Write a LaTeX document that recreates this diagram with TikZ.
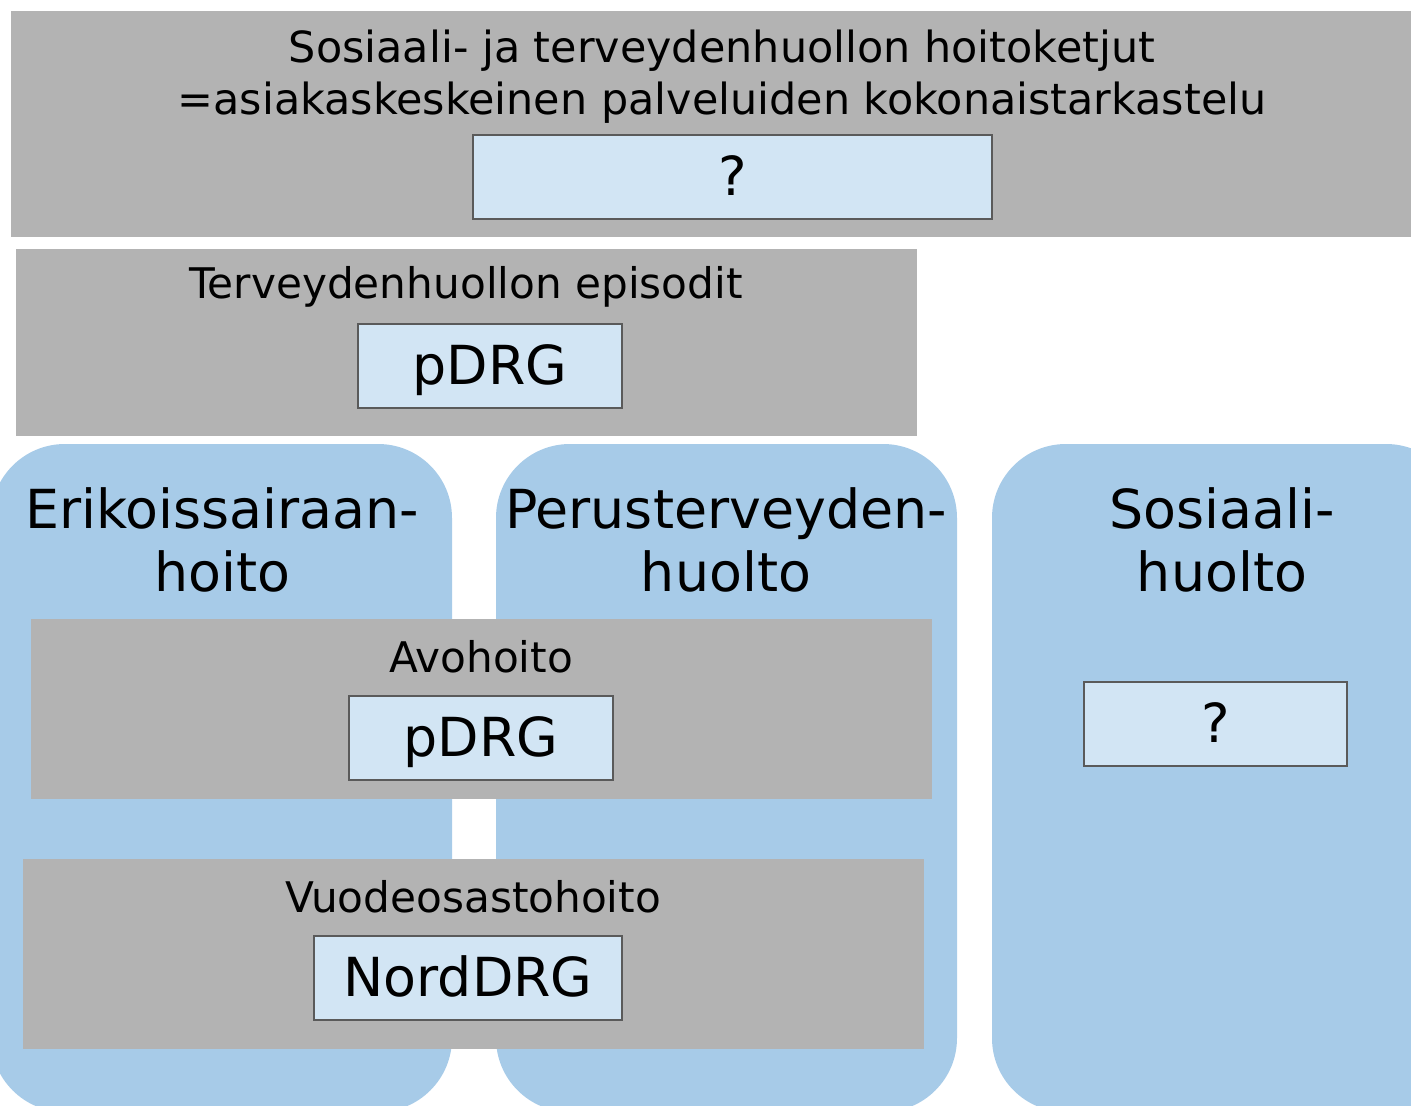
\documentclass[tikz,border=0pt]{standalone}
\usepackage{fontspec}
\setmainfont{DejaVu Sans}
\usepackage{xcolor}
\definecolor{box_gray}{HTML}{B3B3B3}
\definecolor{col_blue}{HTML}{A7CBE8}
\definecolor{code_blue}{HTML}{D2E5F4}
\definecolor{edge_gray}{HTML}{5A5A5A}

\tikzset{
	codebox/.style={draw=edge_gray, fill=code_blue, line width=0.6pt, minimum height=0.84cm, inner sep=0pt, text height=13pt, text depth=2.6pt, font=\fontsize{15.3}{18}\selectfont},
	caption/.style={font=\fontsize{12}{14.8}\selectfont, align=center},
	colhead/.style={font=\fontsize{15.3}{17.9}\selectfont, align=center}
}

\begin{document}
\begin{tikzpicture}[x=0.01cm, y=-0.01cm]
	\useasboundingbox (0, 0) rectangle (1411, 1105);
	\clip (0, 0) rectangle (1411, 1105);
	% columns
	\fill[col_blue, rounded corners=21pt] (-9, 444) rectangle (452, 1112);
	\fill[col_blue, rounded corners=21pt] (496, 444) rectangle (957, 1112);
	\fill[col_blue, rounded corners=21pt] (992, 444) rectangle (1460, 1112);
	\node[colhead] (erik) at (222, 540) {Erikoissairaan-\\hoito};
	\node[colhead] (perus) at (726, 540) {Perusterveyden-\\huolto};
	\node[colhead] (sos) at (1222, 540) {Sosiaali-\\huolto};
	\node[codebox, minimum width=2.63cm] (sosq) at (1215.5, 724) {?};
	% chains
	\fill[box_gray] (11, 11) rectangle (1411, 237);
	\node[caption, font=\fontsize{12.2}{14.8}\selectfont] (chain) at (722, 77) {Sosiaali- ja terveydenhuollon hoitoketjut\\=asiakaskeskeinen palveluiden kokonaistarkastelu};
	\node[codebox, minimum width=5.19cm] (chainq) at (732.5, 177) {?};
	% episodes
	\fill[box_gray] (16, 249) rectangle (917, 436);
	\node[caption] (epis) at (466, 287) {Terveydenhuollon episodit};
	\node[codebox, minimum width=2.64cm] (episdrg) at (490, 366) {pDRG};
	% outpatient
	\fill[box_gray] (31, 619) rectangle (932, 799);
	\node[caption] (avo) at (481, 657) {Avohoito};
	\node[codebox, minimum width=2.64cm] (avodrg) at (481, 738) {pDRG};
	% inpatient
	\fill[box_gray] (23, 859) rectangle (924, 1049);
	\node[caption] (vuode) at (473, 897) {Vuodeosastohoito};
	\node[codebox, minimum width=3.08cm] (vuodedrg) at (468, 978) {NordDRG};
\end{tikzpicture}
\end{document}
